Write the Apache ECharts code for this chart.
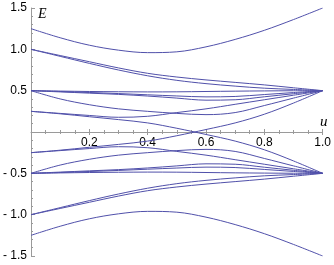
<!DOCTYPE html>
<html>
<head>
<meta charset="utf-8">
<script src="https://cdn.jsdelivr.net/npm/echarts@6/dist/echarts.min.js"></script>
<style>html,body{margin:0;padding:0;background:#fff}#c{width:334px;height:265px}</style>
</head>
<body>
<div id="c"></div>
<script>
// u grid (x values)
const uVals = [0, 0.1, 0.2, 0.3, 0.4, 0.5, 0.6, 0.7, 0.8, 0.9, 1.0];
const xTicks = [0.2, 0.4, 0.6, 0.8, 1.0];
const yTicks = [-1.5, -1.0, -0.5, 0.5, 1.0, 1.5];

// upper branch levels
const A   = [1.25, 1.14, 1.05, 0.99, 0.96, 0.97, 1.03, 1.12, 1.23, 1.36, 1.50];
const B1  = [1.00, 0.925, 0.85, 0.775, 0.71, 0.665, 0.63, 0.60, 0.57, 0.535, 0.50];
const B2  = [1.00, 0.915, 0.83, 0.75, 0.68, 0.625, 0.585, 0.555, 0.53, 0.515, 0.50];
const C1a = [0.50, 0.495, 0.49, 0.487, 0.485, 0.486, 0.49, 0.494, 0.497, 0.499, 0.50];
const C1b = [0.50, 0.49, 0.478, 0.465, 0.45, 0.436, 0.425, 0.43, 0.453, 0.477, 0.50];
const C1c = [0.50, 0.485, 0.47, 0.455, 0.435, 0.41, 0.385, 0.39, 0.426, 0.463, 0.50];
const C2  = [0.50, 0.40, 0.33, 0.28, 0.25, 0.225, 0.21, 0.235, 0.32, 0.41, 0.50];
const D1  = [0.25, 0.225, 0.20, 0.178, 0.19, 0.235, 0.28, 0.335, 0.39, 0.445, 0.50];
const D2  = [0.25, 0.22, 0.185, 0.15, 0.11, 0.045, -0.03, -0.11, -0.215, -0.35, -0.50];

// lower branch levels
const An   = [-1.25, -1.14, -1.05, -0.99, -0.96, -0.97, -1.03, -1.12, -1.23, -1.36, -1.50];
const B1n  = [-1.00, -0.925, -0.85, -0.775, -0.71, -0.665, -0.63, -0.60, -0.57, -0.535, -0.50];
const B2n  = [-1.00, -0.915, -0.83, -0.75, -0.68, -0.625, -0.585, -0.555, -0.53, -0.515, -0.50];
const C1an = [-0.50, -0.495, -0.49, -0.487, -0.485, -0.486, -0.49, -0.494, -0.497, -0.499, -0.50];
const C1bn = [-0.50, -0.49, -0.478, -0.465, -0.45, -0.436, -0.425, -0.43, -0.453, -0.477, -0.50];
const C1cn = [-0.50, -0.485, -0.47, -0.455, -0.435, -0.41, -0.385, -0.39, -0.426, -0.463, -0.50];
const C2n  = [-0.50, -0.40, -0.33, -0.28, -0.25, -0.225, -0.21, -0.235, -0.32, -0.41, -0.50];
const D1n  = [-0.25, -0.225, -0.20, -0.178, -0.19, -0.235, -0.28, -0.335, -0.39, -0.445, -0.50];
const D2n  = [-0.25, -0.22, -0.185, -0.15, -0.11, -0.045, 0.03, 0.11, 0.215, 0.35, 0.50];

const levels = [A, B1, B2, C1a, C1b, C1c, C2, D1, D2, An, B1n, B2n, C1an, C1bn, C1cn, C2n, D1n, D2n];

const chart = echarts.init(document.getElementById('c'), null, {renderer: 'canvas'});
const fmt = v => {
  const r = Math.round(v * 10) / 10;
  if (r === 0) return '';
  const s = Math.abs(r).toFixed(1);
  return r < 0 ? '- ' + s : s;
};
const axisGray = '#9a9a9a';
const labelFont = {color: '#000', fontSize: 12, fontFamily: 'Liberation Sans, Arial, sans-serif'};
const G = {left: 30, right: 9, top: 8, bottom: 9};
const H = 265 - G.top - G.bottom;              // plot height
const zeroOffset = -H / 2;                      // move bottom axis up to E = 0 (range is symmetric)

const option = {
  animation: false,
  backgroundColor: '#fff',
  grid: {left: G.left, right: G.right, top: G.top, bottom: G.bottom, containLabel: false},
  xAxis: [{
    type: 'value', min: 0, max: 1, interval: 0.2, position: 'bottom', offset: zeroOffset,
    axisLine: {show: true, onZero: false, lineStyle: {color: axisGray, width: 1}},
    axisTick: {show: true, inside: false, length: 3, lineStyle: {color: axisGray}},
    minorTick: {show: true, splitNumber: 4, length: 2, lineStyle: {color: axisGray}},
    splitLine: {show: false},
    axisLabel: Object.assign({margin: 5, showMinLabel: false, formatter: v => xTicks.some(t => Math.abs(t - v) < 1e-6) ? v.toFixed(1) : ''}, labelFont)
  }, {
    type: 'value', min: 0, max: 1, interval: 0.2, position: 'bottom', offset: zeroOffset,
    axisLine: {show: false, onZero: false},
    axisTick: {show: true, inside: true, length: 3, lineStyle: {color: axisGray}},
    minorTick: {show: true, splitNumber: 4, length: 2, lineStyle: {color: axisGray}},
    splitLine: {show: false},
    axisLabel: {show: false}
  }],
  yAxis: {
    type: 'value', min: -1.5, max: 1.5, interval: 0.5, position: 'left',
    axisLine: {show: true, onZero: false, lineStyle: {color: axisGray, width: 1}},
    axisTick: {show: true, inside: true, length: 4, lineStyle: {color: axisGray}},
    minorTick: {show: true, splitNumber: 5, length: 2, lineStyle: {color: axisGray}},
    splitLine: {show: false},
    axisLabel: Object.assign({margin: 4, formatter: v => yTicks.some(t => Math.abs(t - v) < 1e-6) ? fmt(v) : ''}, labelFont)
  },
  graphic: [
    {type: 'text', style: {x: 38, y: 21, text: 'E', font: 'italic 14px "Liberation Serif", serif', fill: '#000', textVerticalAlign: 'bottom'}},
    {type: 'text', style: {x: 320, y: 130, text: 'u', font: 'italic 15px "Liberation Serif", serif', fill: '#000', textVerticalAlign: 'bottom'}}
  ],
  series: levels.map(arr => ({
    type: 'line',
    xAxisIndex: 0,
    data: uVals.map((u, i) => [u, arr[i]]),
    smooth: 0.35,
    showSymbol: false,
    symbol: 'none',
    lineStyle: {color: '#5050aa', width: 1},
    silent: true
  }))
};
chart.setOption(option);
</script>
</body>
</html>
